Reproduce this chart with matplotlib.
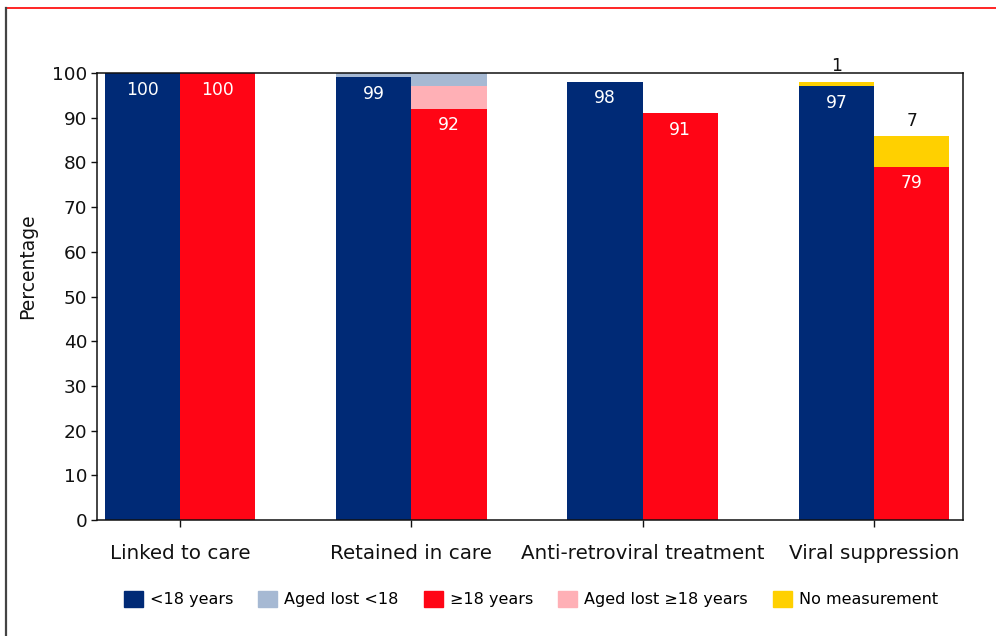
import numpy as np
import matplotlib.pyplot as plt
from matplotlib.patches import Patch
from matplotlib.lines import Line2D

plt.rcParams['font.family'] = 'DejaVu Sans'

categories = ['Linked to care', 'Retained in care', 'Anti-retroviral treatment', 'Viral suppression']
under18 = [100, 99, 98, 97]
over18 = [100, 92, 91, 79]
lost_under18_young = [0, 1, 0, 0]   # aged lost <18, on the <18 bar
lost_under18_old = [0, 3, 0, 0]     # aged lost <18, on the >=18 bar
lost_over18 = [0, 5, 0, 0]
no_meas_young = [0, 0, 0, 1]
no_meas_old = [0, 0, 0, 7]

c_navy = '#002a76'
c_lightblue = '#a6b9d3'
c_red = '#ff0515'
c_pink = '#ffb0b6'
c_yellow = '#ffd000'

fig = plt.figure(figsize=(9.96, 6.36), dpi=100)
ax = fig.add_axes([0.0974, 0.1824, 0.8695, 0.7028])

x = np.arange(len(categories))
w = 0.325
xl = x - w / 2
xr = x + w / 2

u = np.array(under18)
o = np.array(over18)
ax.bar(xl, u, w, color=c_navy)
ax.bar(xl, lost_under18_young, w, bottom=u, color=c_lightblue)
ax.bar(xl, no_meas_young, w, bottom=u + np.array(lost_under18_young), color=c_yellow)

ax.bar(xr, o, w, color=c_red)
ax.bar(xr, lost_over18, w, bottom=o, color=c_pink)
ax.bar(xr, lost_under18_old, w, bottom=o + np.array(lost_over18), color=c_lightblue)
ax.bar(xr, no_meas_old, w, bottom=o + np.array(lost_over18) + np.array(lost_under18_old), color=c_yellow)

for i in range(len(categories)):
    ax.text(xl[i], under18[i] - 3.7, str(under18[i]), color='white', ha='center', va='center', fontsize=12.3)
    ax.text(xr[i], over18[i] - 3.7, str(over18[i]), color='white', ha='center', va='center', fontsize=12.3)
    if no_meas_young[i]:
        top = under18[i] + no_meas_young[i]
        ax.text(xl[i], top + 3.6, str(no_meas_young[i]), color='#111111', ha='center', va='center', fontsize=12.3)
    if no_meas_old[i]:
        top = over18[i] + no_meas_old[i]
        ax.text(xr[i], top + 3.2, str(no_meas_old[i]), color='#111111', ha='center', va='center', fontsize=12.3)

ax.set_xlim(-0.359, 3.385)
ax.set_ylim(0, 100)
ax.set_yticks(np.arange(0, 101, 10))
ax.set_xticks(x)
ax.set_xticklabels(categories)
ax.tick_params(axis='y', labelsize=13.3, length=4, width=1, pad=3, colors='#111111')
ax.tick_params(axis='x', labelsize=14.3, length=5, width=1, pad=12, colors='#111111')
for sp in ax.spines.values():
    sp.set_linewidth(1.1)
    sp.set_color('#111111')
    sp.set_zorder(5)

fig.text(28 / 996, 1 - 266 / 636, 'Percentage', rotation=90, fontsize=13.5,
         color='#111111', ha='center', va='center')

handles = [Patch(color=c_navy), Patch(color=c_lightblue), Patch(color=c_red),
           Patch(color=c_pink), Patch(color=c_yellow)]
labels = ['<18 years', 'Aged lost <18', '≥18 years', 'Aged lost ≥18 years', 'No measurement']
fig.legend(handles, labels, loc='center', bbox_to_anchor=(0.533, 0.058), ncol=5,
           frameon=False, fontsize=11.5, handlelength=1.2, handleheight=1.2,
           handletextpad=0.45, columnspacing=1.55)

# frame lines along the top and left edge
fig.add_artist(Line2D([0.006, 1.0], [0.9874, 0.9874], color='#ff0000', lw=1.2))
fig.add_artist(Line2D([0.0065, 0.0065], [0.0, 0.9874], color='#444444', lw=1.6))

fig.savefig('out.png', dpi=100)
